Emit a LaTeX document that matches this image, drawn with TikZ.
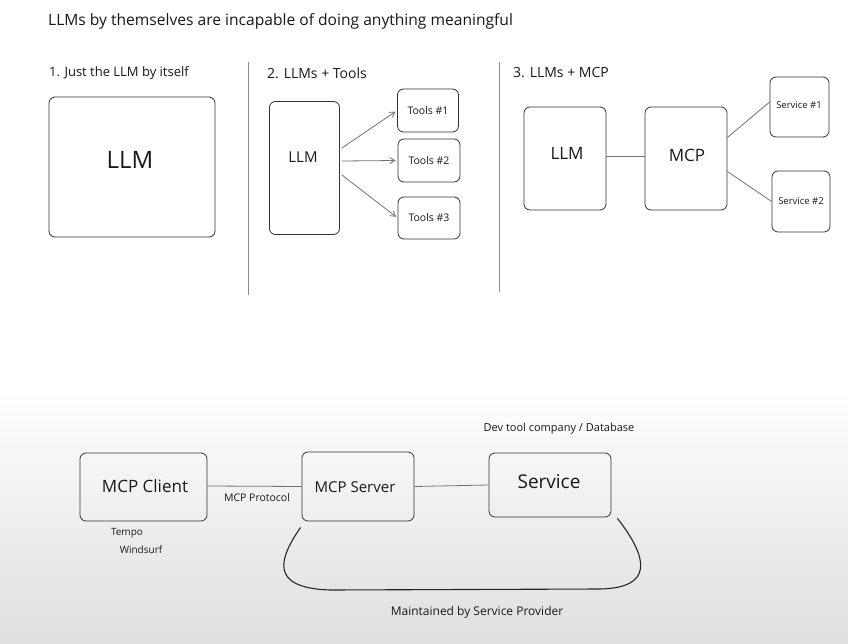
\documentclass[tikz,border=0pt]{standalone}
\usepackage{fontspec}
\setmainfont{Open Sans}
\usetikzlibrary{arrows.meta}
\newcommand{\fs}[1]{\fontsize{#1}{#1}\selectfont}
\tikzset{
  box/.style={draw=black!80, line width=0.8pt, rounded corners=6pt, inner sep=0pt, anchor=center},
  lbl/.style={inner sep=0pt, text=black!90},
  conn/.style={draw=black!55, line width=0.8pt},
  arr/.style={conn, -{Straight Barb[length=5pt,width=6pt]}, shorten >=2pt},
  divider/.style={draw=black!45, line width=0.8pt},
}
\begin{document}
\begin{tikzpicture}[x=1pt,y=-1pt]
\useasboundingbox (0,0) rectangle (848,644);
\fill[white] (0,0) rectangle (848,644);
\shade[top color=white, bottom color=gray!25] (0,385) rectangle (848,644);

% title and headings
\node[lbl, anchor=west] (title) at (48,21) {\fs{15.6}LLMs by themselves are incapable of doing anything meaningful};
\node[lbl, anchor=west] (h1) at (49,73) {\fs{13}1. Just the LLM by itself};
\node[lbl, anchor=west] (h2) at (267,73) {\fs{14}2. LLMs + Tools};
\node[lbl, anchor=west] (h3) at (513,73) {\fs{14}3. LLMs + MCP};

% dividers
\coordinate (d1a) at (248,62); \coordinate (d1b) at (248,295);
\coordinate (d2a) at (499,62); \coordinate (d2b) at (499,292);
\draw[divider] (d1a) -- (d1b);
\draw[divider] (d2a) -- (d2b);

% panel 1
\node[box, minimum width=166pt, minimum height=140pt] (llm1) at (132,167) {};
\node[lbl] (llm1t) at (130,160) {\fs{24}LLM};

% panel 2
\node[box, minimum width=70pt, minimum height=133pt] (llm2) at (304.5,168) {};
\node[lbl] (llm2t) at (303,157) {\fs{15}LLM};
\node[box, minimum width=61pt, minimum height=43pt] (t1) at (428,110.5) {};
\node[lbl] (t1t) at (428,111) {\fs{10.5}Tools \#1};
\node[box, minimum width=62pt, minimum height=43pt] (t2) at (429,160.5) {};
\node[lbl] (t2t) at (429,161) {\fs{10.5}Tools \#2};
\node[box, minimum width=62pt, minimum height=42pt] (t3) at (429,218) {};
\node[lbl] (t3t) at (429,218) {\fs{10.5}Tools \#3};
\draw[arr] ([yshift=20pt,xshift=2pt]llm2.east) -- (t1.west);
\draw[arr] ([yshift=7pt,xshift=2pt]llm2.east) -- (t2.west);
\draw[arr] ([yshift=-7pt,xshift=2pt]llm2.east) -- (t3.west);

% panel 3
\node[box, minimum width=82pt, minimum height=103pt] (llm3) at (565,158.5) {};
\node[lbl] (llm3t) at (567,153) {\fs{17}LLM};
\node[box, minimum width=82pt, minimum height=103pt] (mcp) at (686,158.5) {};
\node[lbl] (mcpt) at (687,155) {\fs{17}MCP};
\node[box, minimum width=59pt, minimum height=60pt] (s1) at (799.5,107) {};
\node[lbl] (s1t) at (799,105) {\fs{9.5}Service \#1};
\node[box, minimum width=58pt, minimum height=61pt] (s2) at (801,201.5) {};
\node[lbl] (s2t) at (801,201) {\fs{9.5}Service \#2};
\draw[conn] ([yshift=2pt]llm3.east) -- ([yshift=2pt]mcp.west);
\draw[conn] ([yshift=21pt]mcp.east) -- ([yshift=5pt]s1.west);
\draw[conn] ([yshift=-13pt]mcp.east) -- (s2.west);

% bottom
\node[lbl] (devt) at (559,429) {\fs{11}Dev tool company / Database};
\node[box, minimum width=127pt, minimum height=68pt] (client) at (143.5,487) {};
\node[lbl] (clientt) at (145,486) {\fs{17}MCP Client};
\node[box, minimum width=112pt, minimum height=69pt] (server) at (358,486.5) {};
\node[lbl] (servert) at (355,487) {\fs{15}MCP Server};
\node[box, minimum width=122pt, minimum height=64pt] (service) at (550,485) {};
\node[lbl] (servicet) at (549,482) {\fs{19}Service};
\draw[conn] ([yshift=1pt]client.east) -- (server.west);
\draw[conn] (server.east) -- (service.west);
\node[lbl] (proto) at (257,498) {\fs{10.5}MCP Protocol};
\node[lbl] (tempo) at (127,533) {\fs{10}Tempo};
\node[lbl] (winds) at (141,550) {\fs{10}Windsurf};

\coordinate (cs) at ([shift={(-1,6)}]server.south west);
\coordinate (ce) at ([shift={(6,1)}]service.south east);
\draw[black!85, line width=1.1pt] (cs) .. controls (278,560) and (270,588) .. (330,590)
  -- (600,589) .. controls (652,588) and (650,560) .. (ce);
\node[lbl] (maint) at (477,612) {\fs{12}Maintained by Service Provider};
\end{tikzpicture}
\end{document}
